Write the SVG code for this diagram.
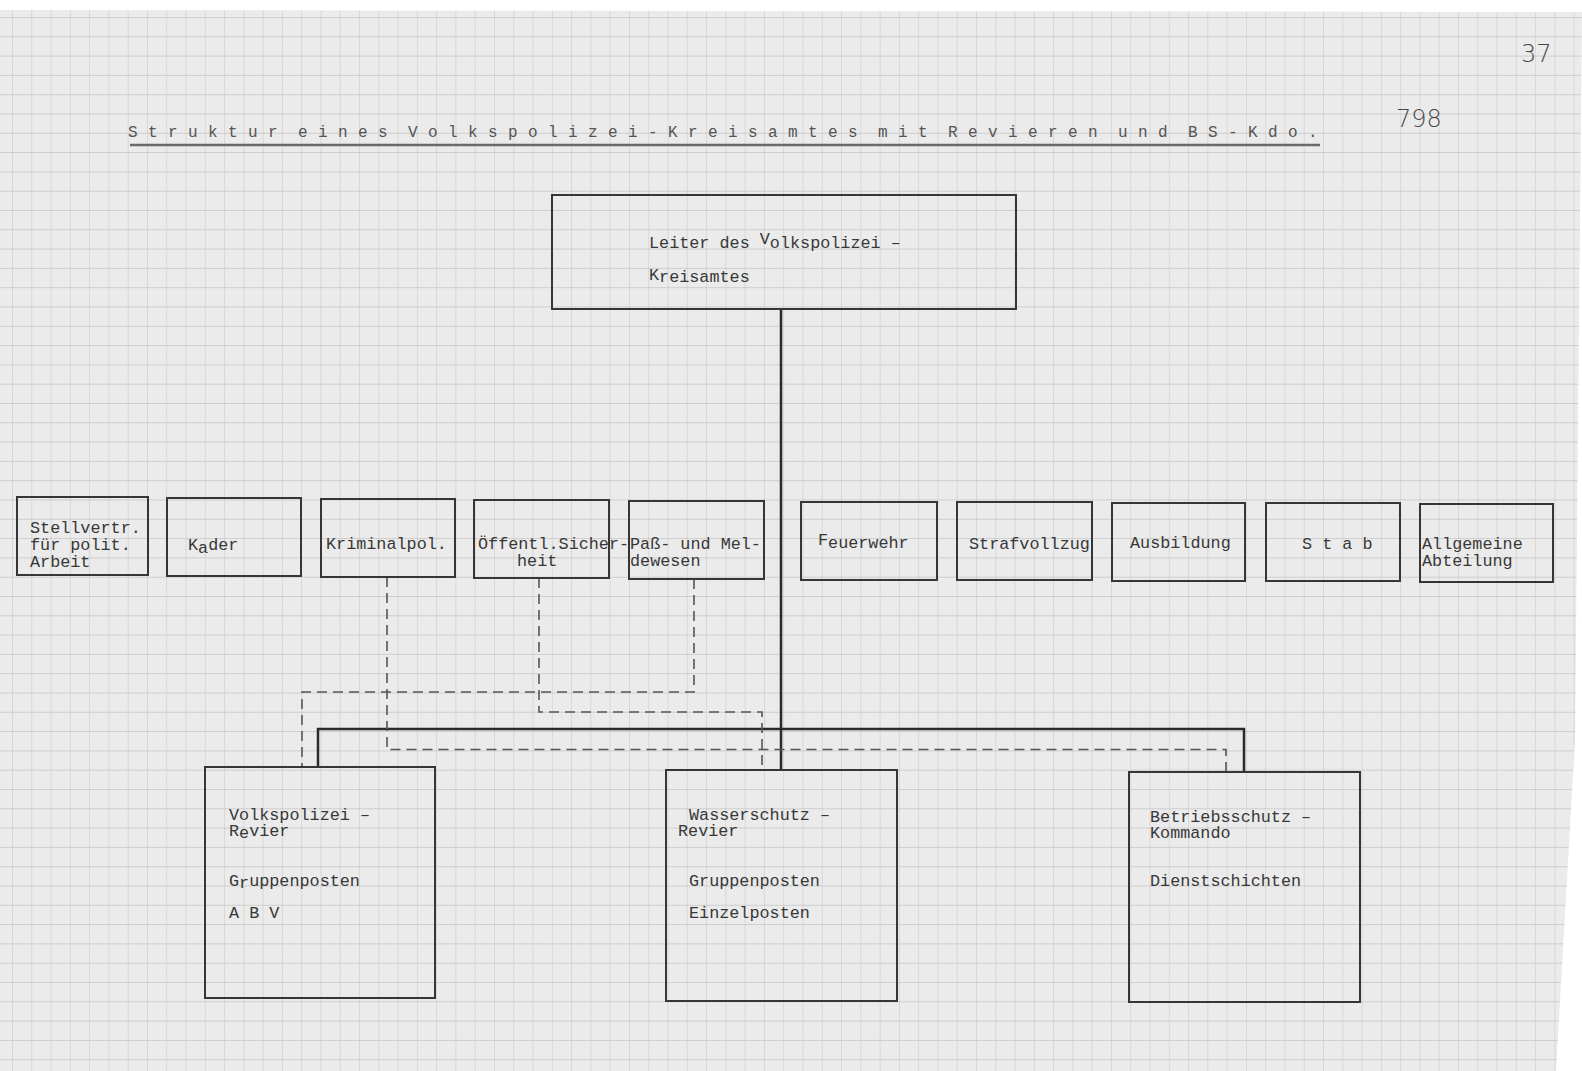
<svg xmlns="http://www.w3.org/2000/svg" width="1582" height="1071" viewBox="0 0 1582 1071">
<defs>
<pattern id="grid" x="12" y="17" width="19.28" height="19.3" patternUnits="userSpaceOnUse">
<line x1="0" y1="0" x2="0" y2="19.3" stroke="#c4c4c4" stroke-width="1"/>
<line x1="0" y1="0" x2="19.28" y2="0" stroke="#b2b2b2" stroke-width="1"/>
</pattern>
<style>
.box{fill:none;stroke:#363636;stroke-width:2}
.t{font-family:"Liberation Mono","DejaVu Sans Mono",monospace;font-size:16.8px;fill:#383838}
.title{font-family:"Liberation Mono","DejaVu Sans Mono",monospace;font-size:16px;fill:#555;letter-spacing:10.4px;word-spacing:-10px}
.hand{font-family:"DejaVu Sans","Liberation Sans",sans-serif;fill:#4a4a4a;font-weight:300}
.solid{fill:none;stroke:#2a2a2a;stroke-width:2.5}
.dash{fill:none;stroke:#555;stroke-width:1.6;stroke-dasharray:10 6}
</style>
</defs>
<rect x="0" y="0" width="1582" height="1071" fill="#ffffff"/>
<polygon points="0,10 1582,12 1575,740 1556,1071 0,1071" fill="#ebebeb"/>
<polygon points="0,10 1582,12 1575,740 1556,1071 0,1071" fill="url(#grid)"/>

<g id="title">
<text class="title" x="128" y="137">Struktur eines Volkspolizei-Kreisamtes mit Revieren und BS-Kdo.</text>
<line x1="130" y1="145" x2="1320" y2="145" stroke="#6a6a6a" stroke-width="2.5"/>
<text class="hand" x="1521" y="62" font-size="24">37</text>
<text class="hand" x="1396" y="127" font-size="24">798</text>
</g>

<g id="connectors">
<path class="solid" d="M781,309 V769"/>
<path class="solid" d="M318,767 V729 H1244 V772"/>
<path class="dash" d="M387,577 V749.5 H1226 V772"/>
<path class="dash" d="M539,578 V712 H762 V769"/>
<path class="dash" d="M694,579 V692 H302 V767"/>
</g>

<g id="leiter">
<rect class="box" x="552" y="195" width="464" height="114"/>
<text class="t" x="649" y="248">Leiter des <tspan dy="-4">V</tspan><tspan dy="4">olkspolizei –</tspan></text>
<text class="t" x="649" y="282"><tspan dy="-2">K</tspan><tspan dy="2">reisamtes</tspan></text>
</g>

<g id="stellvertr">
<rect class="box" x="17" y="497" width="131" height="78"/>
<text class="t" x="30" y="533">Stellvertr.</text>
<text class="t" x="30" y="550">für polit.</text>
<text class="t" x="30" y="567">Arbeit</text>
</g>
<g id="kader">
<rect class="box" x="167" y="498" width="134" height="78"/>
<text class="t" x="188" y="550">K<tspan dy="3">a</tspan><tspan dy="-3">der</tspan></text>
</g>
<g id="kriminalpol">
<rect class="box" x="321" y="499" width="134" height="78"/>
<text class="t" x="326" y="549">Kriminalpol.</text>
</g>
<g id="oeffentl">
<rect class="box" x="474" y="500" width="135" height="78"/>
<text class="t" x="478" y="549">Öffentl.Sicher-</text>
<text class="t" x="517" y="566">heit</text>
</g>
<g id="pass">
<rect class="box" x="629" y="501" width="135" height="78"/>
<text class="t" x="630" y="549">Paß- und Mel-</text>
<text class="t" x="630" y="566">dewesen</text>
</g>
<g id="feuerwehr">
<rect class="box" x="801" y="502" width="136" height="78"/>
<text class="t" x="818" y="548"><tspan dy="-3">F</tspan><tspan dy="3">euerwehr</tspan></text>
</g>
<g id="strafvollzug">
<rect class="box" x="957" y="502" width="135" height="78"/>
<text class="t" x="969" y="549">Strafvollzug</text>
</g>
<g id="ausbildung">
<rect class="box" x="1112" y="503" width="133" height="78"/>
<text class="t" x="1130" y="548">Ausbildung</text>
</g>
<g id="stab">
<rect class="box" x="1266" y="503" width="134" height="78"/>
<text class="t" x="1302" y="549">S t a b</text>
</g>
<g id="allgemeine">
<rect class="box" x="1420" y="504" width="133" height="78"/>
<text class="t" x="1422" y="549">Allgemeine</text>
<text class="t" x="1422" y="566">Abteilung</text>
</g>

<g id="volkspolizei-revier">
<rect class="box" x="205" y="767" width="230" height="231"/>
<text class="t" x="229" y="820">Volkspolizei –</text>
<text class="t" x="229" y="836">R<tspan dy="2">e</tspan><tspan dy="-2">vier</tspan></text>
<text class="t" x="229" y="886">G<tspan dy="2">r</tspan><tspan dy="-2">uppenposten</tspan></text>
<text class="t" x="229" y="918">A B V</text>
</g>
<g id="wasserschutz-revier">
<rect class="box" x="666" y="770" width="231" height="231"/>
<text class="t" x="689" y="820">Wasserschutz –</text>
<text class="t" x="678" y="836">Revier</text>
<text class="t" x="689" y="886">Gruppenposten</text>
<text class="t" x="689" y="918">Einzelposten</text>
</g>
<g id="betriebsschutz-kommando">
<rect class="box" x="1129" y="772" width="231" height="230"/>
<text class="t" x="1150" y="822">Betriebsschutz –</text>
<text class="t" x="1150" y="838">Kommando</text>
<text class="t" x="1150" y="886">Dienstschichten</text>
</g>
</svg>
